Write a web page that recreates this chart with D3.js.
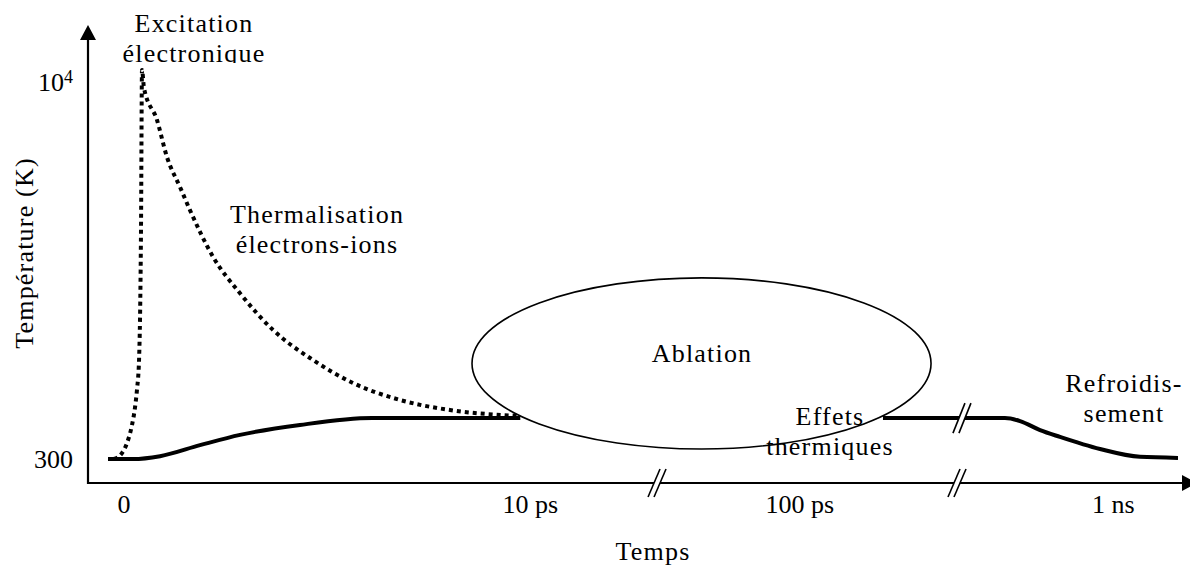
<!DOCTYPE html>
<html>
<head>
<meta charset="utf-8">
<script src="https://cdn.jsdelivr.net/npm/d3@7"></script>
<style>
  html, body { margin: 0; padding: 0; background: #fff; }
  svg { display: block; }
  text { font-family: "Liberation Serif", "Times New Roman", serif; fill: #000; }
</style>
</head>
<body>
<svg id="chart" width="1190" height="566"></svg>
<script>
// ---------- data (schematic time units along a broken axis, temperature in K) ----------
const xTickPos = [3.27, 40.2, 64.7, 93.2];
const xTickLabels = ["0", "10 ps", "100 ps", "1 ns"];
const yTickValues = [300, 10000];

// electron temperature (dotted)
const electronTime = [2.36, 3.09, 3.55, 4.00, 4.27, 4.45, 4.64, 4.82, 4.91, 5.09, 6.27, 7.18, 8.36, 9.27, 11.36, 13.82, 16.82, 20.45, 24.09, 28.36, 32.91, 39.09];
const electronTemp = [300, 317, 348, 411, 482, 568, 750, 2570, 10980, 9290, 6910, 4900, 3720, 3000, 1950, 1390, 990, 750, 606, 518, 472, 447];

// lattice / ion temperature (solid), before and after ablation
const latticeEarlyTime = [1.82, 4.09, 6.55, 10.18, 13.82, 19.27, 25.82, 39.3];
const latticeEarlyTemp = [300, 300, 308, 341, 375, 411, 438, 438];
const latticeLateTime = [72.27, 82.0, 83.36, 84.73, 86.55, 88.36, 92.0, 95.64, 99.09];
const latticeLateTemp = [438, 438, 438, 426, 392, 368, 329, 306, 303];

// ablation region (ellipse extent)
const ablationTime = [34.91, 76.64];
const ablationTemp = [329, 1603];

// axis breaks
const axisBreakTime = [51.73, 79.0];
const curveBreakTime = [79.45];
const curveBreakTemp = [438];

// ---------- layout ----------
const svg = d3.select("#chart");
const x = d3.scaleLinear().domain([0, 100]).range([88, 1188]);
const y = d3.scaleLog().domain([300, 10000]).range([459, 80]);
const axisY = 483, axisX = 88;
const FS = 26, LS = "1.2px";

// ablation ellipse
const ex0 = x(ablationTime[0]), ex1 = x(ablationTime[1]);
const ey0 = y(ablationTemp[0]), ey1 = y(ablationTemp[1]);
svg.append("ellipse")
  .attr("cx", (ex0 + ex1) / 2).attr("cy", (ey0 + ey1) / 2)
  .attr("rx", (ex1 - ex0) / 2).attr("ry", (ey0 - ey1) / 2)
  .attr("fill", "none").attr("stroke", "#000").attr("stroke-width", 1.6);

// axes
svg.append("line").attr("x1", axisX).attr("x2", axisX).attr("y1", axisY + 1).attr("y2", 38)
  .attr("stroke", "#000").attr("stroke-width", 2.2);
svg.append("path").attr("d", `M${axisX},25 L${axisX - 8},40 L${axisX + 8},40 Z`).attr("fill", "#000");
svg.append("line").attr("x1", axisX - 1).attr("x2", 1184).attr("y1", axisY).attr("y2", axisY)
  .attr("stroke", "#000").attr("stroke-width", 2.2);
svg.append("path").attr("d", `M1197,${axisY} L1182,${axisY - 8} L1182,${axisY + 8} Z`).attr("fill", "#000");

// curves
const line = d3.line().x(d => x(d[0])).y(d => y(d[1])).curve(d3.curveMonotoneX);
svg.append("path").datum(electronTime.map((t, i) => [t, electronTemp[i]]))
  .attr("d", line).attr("fill", "none").attr("stroke", "#000")
  .attr("stroke-width", 4).attr("stroke-dasharray", "4 4");
svg.append("path").datum(latticeEarlyTime.map((t, i) => [t, latticeEarlyTemp[i]]))
  .attr("d", line).attr("fill", "none").attr("stroke", "#000").attr("stroke-width", 4);
svg.append("path").datum(latticeLateTime.map((t, i) => [t, latticeLateTemp[i]]))
  .attr("d", line).attr("fill", "none").attr("stroke", "#000").attr("stroke-width", 4);

// break marks
function breakMark(cx, cy, h) {
  const g = svg.append("g");
  const dx = 6, o = 3;
  g.append("path")
    .attr("d", `M${cx - o - dx},${cy + h} L${cx - o + dx},${cy - h} L${cx + o + dx},${cy - h} L${cx + o - dx},${cy + h} Z`)
    .attr("fill", "#fff");
  [-o, o].forEach(off => {
    g.append("line")
      .attr("x1", cx + off - dx).attr("y1", cy + h)
      .attr("x2", cx + off + dx).attr("y2", cy - h)
      .attr("stroke", "#000").attr("stroke-width", 1.6);
  });
}
axisBreakTime.forEach(t => breakMark(x(t), axisY, 14));
curveBreakTime.forEach((t, i) => breakMark(x(t), y(curveBreakTemp[i]), 15));

// tick labels
xTickLabels.forEach((lab, i) => {
  svg.append("text").attr("x", x(xTickPos[i])).attr("y", 513)
    .attr("text-anchor", "middle").attr("font-size", FS).text(lab);
});
svg.append("text").attr("x", 73).attr("y", y(yTickValues[0]) + 9)
  .attr("text-anchor", "end").attr("font-size", FS).text("300");
const t4 = svg.append("text").attr("x", 73).attr("y", y(yTickValues[1]) + 11)
  .attr("text-anchor", "end").attr("font-size", FS);
t4.append("tspan").text("10");
t4.append("tspan").attr("font-size", 18).attr("dy", -8).text("4");

// axis titles
svg.append("text").attr("x", 653).attr("y", 560).attr("text-anchor", "middle")
  .attr("font-size", FS).attr("letter-spacing", LS).text("Temps");
svg.append("text").attr("transform", "translate(33,253) rotate(-90)")
  .attr("text-anchor", "middle").attr("font-size", FS).attr("letter-spacing", LS).text("Température (K)");

// annotations
svg.append("clipPath").attr("id", "topclip").append("rect")
  .attr("x", 0).attr("y", 0).attr("width", 1190).attr("height", 63);
function note(lines, cx, y0, clip) {
  const t = svg.append("text").attr("text-anchor", "middle").attr("font-size", FS)
    .attr("letter-spacing", LS);
  if (clip) t.attr("clip-path", "url(#topclip)");
  lines.forEach((s, i) => t.append("tspan").attr("x", cx).attr("y", y0 + i * 30).text(s));
}
note(["Excitation", "électronique"], 194, 32, true);
note(["Thermalisation", "électrons-ions"], 317, 223);
note(["Ablation"], 702, 362);
note(["Effets", "thermiques"], 830, 425);
note(["Refroidis-", "sement"], 1124, 392);
</script>
</body>
</html>
